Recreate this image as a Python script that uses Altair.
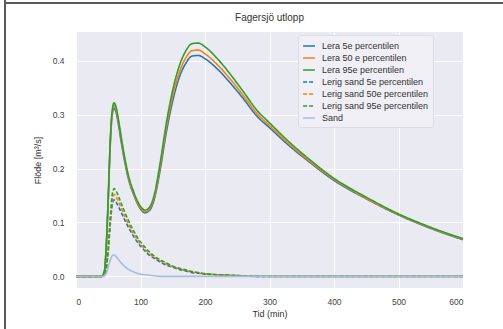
import altair as alt
import pandas as pd

# time axis (minutes)
times = [0, 20, 40, 44, 47, 50, 53, 56, 59, 62, 66, 70, 75, 80, 90, 100, 107, 115, 122, 130,
         140, 150, 160, 170, 180, 190, 200, 220, 240, 260, 280, 300, 330, 360, 400, 450, 500, 550, 600]

lera_5 = [0, 0, 0, 0.008, 0.055, 0.14, 0.24, 0.298, 0.312, 0.305, 0.28, 0.25, 0.216, 0.187, 0.15,
          0.125, 0.118, 0.124, 0.146, 0.194, 0.267, 0.326, 0.369, 0.395, 0.409, 0.41, 0.404, 0.384,
          0.358, 0.329, 0.298, 0.276, 0.243, 0.214, 0.178, 0.144, 0.114, 0.089, 0.068]
lera_50 = [0, 0, 0, 0.009, 0.058, 0.145, 0.245, 0.302, 0.317, 0.31, 0.285, 0.255, 0.22, 0.19, 0.152,
           0.127, 0.12, 0.127, 0.15, 0.2, 0.275, 0.335, 0.378, 0.405, 0.419, 0.42, 0.413, 0.392,
           0.365, 0.335, 0.303, 0.28, 0.246, 0.216, 0.18, 0.145, 0.115, 0.09, 0.069]
lera_95 = [0, 0, 0, 0.01, 0.06, 0.15, 0.25, 0.307, 0.322, 0.315, 0.29, 0.26, 0.224, 0.194, 0.155,
           0.13, 0.123, 0.13, 0.155, 0.207, 0.284, 0.346, 0.39, 0.418, 0.432, 0.433, 0.426, 0.403,
           0.374, 0.342, 0.309, 0.285, 0.25, 0.219, 0.182, 0.147, 0.116, 0.091, 0.07]
ls_5 = [0, 0, 0, 0.002, 0.014, 0.047, 0.094, 0.131, 0.142, 0.138, 0.129, 0.119, 0.106, 0.094, 0.073,
        0.056, 0.047, 0.038, 0.033, 0.027, 0.021, 0.017, 0.013, 0.01, 0.007, 0.006, 0.004, 0.003,
        0.002, 0.001, 0, 0, 0, 0, 0, 0, 0, 0, 0]
ls_50 = [0, 0, 0, 0.002, 0.015, 0.05, 0.1, 0.14, 0.152, 0.148, 0.138, 0.127, 0.113, 0.1, 0.078,
         0.06, 0.05, 0.041, 0.035, 0.029, 0.023, 0.018, 0.014, 0.011, 0.008, 0.006, 0.005, 0.003,
         0.002, 0.001, 0.0005, 0, 0, 0, 0, 0, 0, 0, 0]
ls_95 = [0, 0, 0, 0.002, 0.016, 0.054, 0.107, 0.15, 0.163, 0.159, 0.148, 0.136, 0.121, 0.107, 0.083,
         0.064, 0.054, 0.044, 0.037, 0.031, 0.025, 0.019, 0.015, 0.012, 0.009, 0.007, 0.005, 0.003,
         0.002, 0.001, 0, 0, 0, 0, 0, 0, 0, 0, 0]
sand = [0, 0, 0, 0.001, 0.006, 0.017, 0.03, 0.038, 0.04, 0.037, 0.031, 0.025, 0.019, 0.014, 0.008,
        0.004, 0.003, 0.002, 0.001, 0, 0, 0, 0, 0, 0, 0, 0, 0, 0, 0, 0, 0, 0, 0, 0, 0, 0, 0, 0]

names = ["Lera 5e percentilen", "Lera 50 e percentilen", "Lera 95e percentilen",
         "Lerig sand 5e percentilen", "Lerig sand 50e percentilen", "Lerig sand 95e percentilen",
         "Sand"]
series = [lera_5, lera_50, lera_95, ls_5, ls_50, ls_95, sand]
colors = ["#1f77b4", "#ff7f0e", "#2ca02c", "#1f77b4", "#ff7f0e", "#2ca02c", "#a9bedc"]
dashes = [[1, 0], [1, 0], [1, 0], [4, 2], [4, 2], [4, 2], [1, 0]]
widths = [1.6, 1.6, 1.6, 1.6, 1.6, 1.6, 1.1]

rows = []
for i, (n, s) in enumerate(zip(names, series)):
    for t, v in zip(times, s):
        rows.append({"serie": n, "order": i, "t": t, "q": v})
df = pd.DataFrame(rows)

FONT = "Liberation Sans"

lines = alt.Chart(df).mark_line(interpolate="monotone").encode(
    x=alt.X("t:Q", title="Tid (min)", scale=alt.Scale(domain=[0, 600], nice=False),
            axis=alt.Axis(values=[0, 100, 200, 300, 400, 500, 600])),
    y=alt.Y("q:Q", title="Flöde [m³/s]",
            scale=alt.Scale(domain=[-0.0216, 0.4536], nice=False, zero=False),
            axis=alt.Axis(values=[0, 0.1, 0.2, 0.3, 0.4], format=".1f")),
    color=alt.Color("serie:N", scale=alt.Scale(domain=names, range=colors), title=None),
    strokeDash=alt.StrokeDash("serie:N", scale=alt.Scale(domain=names, range=dashes), title=None),
    strokeWidth=alt.StrokeWidth("serie:N", scale=alt.Scale(domain=names, range=widths), title=None),
    order=alt.Order("order:Q"),
)

frame_left = alt.Chart(pd.DataFrame({"a": [0]})).mark_rule(color="#5a5a5a", strokeWidth=2).encode(
    x=alt.value(-71), y=alt.value(-32), y2=alt.value(297))
frame_top = alt.Chart(pd.DataFrame({"a": [0]})).mark_rule(color="#5a5a5a", strokeWidth=2).encode(
    y=alt.value(-29), x=alt.value(-72), x2=alt.value(427))

chart = alt.layer(lines, frame_left, frame_top).properties(
    width=387, height=256,
    autosize=alt.AutoSizeParams(type="none"),
    padding={"left": 76, "top": 32, "right": 40, "bottom": 41},
    title=alt.TitleParams("Fagersjö utlopp", fontSize=10, fontWeight="normal", color="#333333",
                          font=FONT, offset=0, dy=24, anchor="middle", frame="group"),
    background="white",
).configure_view(
    fill="#EAEAF2", strokeWidth=0
).configure_axis(
    grid=True, gridColor="white", gridWidth=1, domain=False, ticks=False,
    labelFont=FONT, labelFontSize=8.5, labelColor="#444444",
    titleFont=FONT, titleFontSize=9, titleColor="#333333", titleFontWeight="normal",
).configure_axisX(
    labelPadding=9, titlePadding=4
).configure_axisY(
    labelPadding=12, titlePadding=10
).configure_legend(
    orient="none", legendX=222, legendY=3, symbolType="stroke", symbolSize=140,
    labelFont=FONT, labelFontSize=9, labelColor="#333333", labelLimit=250,
    labelOffset=6, rowPadding=0, padding=4,
    fillColor="#EFEFF5", strokeColor="#DCDCE6", cornerRadius=2,
)

chart.save("out.html", embed_options={"renderer": "svg", "actions": False})
